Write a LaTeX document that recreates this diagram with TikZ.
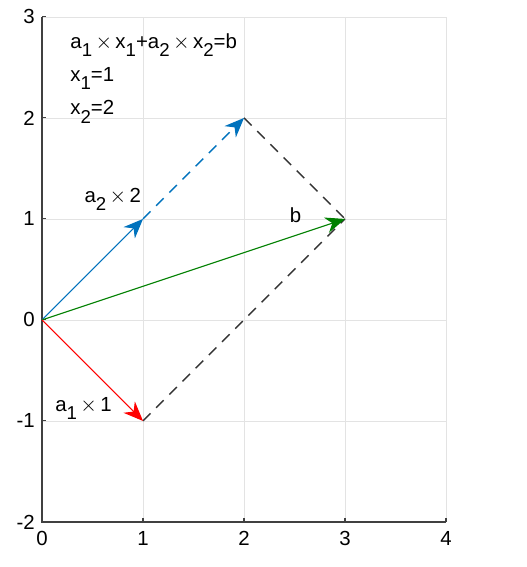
\documentclass[tikz,border=0pt]{standalone}
\usepackage{fontspec}
\setmainfont{Liberation Sans}
\usetikzlibrary{arrows.meta}

\definecolor{mblue}{rgb}{0,0.447,0.741}
\definecolor{mgreen}{rgb}{0,0.5,0}
\newcommand{\lo}[1]{\raisebox{-0.75ex}{\fontsize{10.5}{11}\selectfont #1}}

\tikzset{
    vec/.style={line width=0.6pt, -{Stealth[length=11pt,width=9pt,inset=3.5pt]}},
    dashln/.style={line width=0.8pt, dash pattern=on 6pt off 4.5pt},
    lbl/.style={font=\fontsize{11.5}{13}\selectfont, inner sep=1pt}
}

\begin{document}
\begin{tikzpicture}[x=2cm, y=2cm]
    \useasboundingbox (-0.416,-2.446) rectangle (4.792,3.168);
    % grid
    \foreach \x in {1,...,4} \draw[gray!22, line width=0.5pt] (\x,-2) -- (\x,3);
    \foreach \y in {-1,...,3} \draw[gray!22, line width=0.5pt] (0,\y) -- (4,\y);
    % axes
    \draw[black!75, line width=0.9pt] (0,3) -- (0,-2) -- (4,-2);
    \foreach \x in {0,...,4} {
        \draw[black!75, line width=0.6pt] (\x,-2) -- (\x,-1.96);
        \node[lbl, below] (xl\x) at (\x,-2.07) {\x};
    }
    \foreach \y in {-2,...,3} {
        \draw[black!75, line width=0.6pt] (0,\y) -- (0.04,\y);
        \node[lbl, left] (yl\y) at (-0.05,\y) {\y};
    }

    \coordinate (O) at (0,0);
    \coordinate (A1) at (1,-1);
    \coordinate (A2) at (1,1);
    \coordinate (A22) at (2,2);
    \coordinate (B) at (3,1);

    \draw[dashln, black!80] (A22) to (B);
    \draw[dashln, black!80] (A1) to (B);
    \draw[vec, mblue] (O) to (A2);
    \draw[vec, mblue, dashln] (A2) to (A22);
    \draw[vec, mgreen] (O) to (B);
    \draw[vec, red] (O) to (A1);

    \node[lbl, anchor=west] (eq) at (0.26,2.72) {a\lo{1}\,$\times$\,x\lo{1}+a\lo{2}\,$\times$\,x\lo{2}=b};
    \node[lbl, anchor=west] (xone) at (0.26,2.39) {x\lo{1}=1};
    \node[lbl, anchor=west] (xtwo) at (0.26,2.06) {x\lo{2}=2};
    \node[lbl, anchor=west] (la2) at (0.40,1.19) {a\lo{2}\,$\times$\,2};
    \node[lbl] (lb) at (2.51,1.04) {b};
    \node[lbl, anchor=west] (la1) at (0.11,-0.88) {a\lo{1}\,$\times$\,1};
\end{tikzpicture}
\end{document}
